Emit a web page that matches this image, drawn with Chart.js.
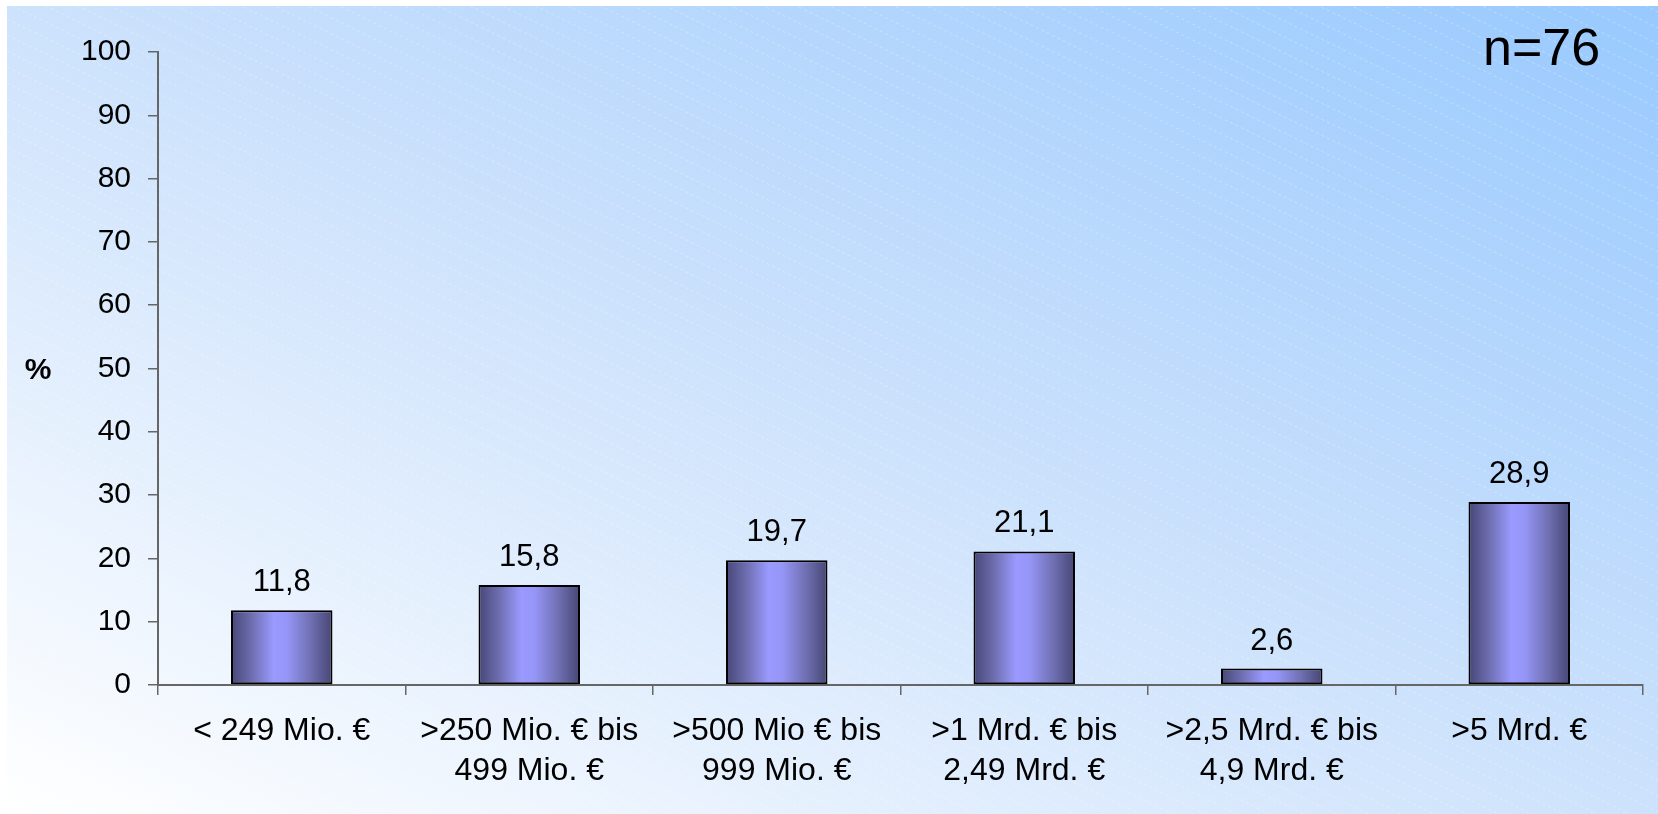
<!DOCTYPE html>
<html>
<head>
<meta charset="utf-8">
<style>
html,body{margin:0;padding:0;background:#fff;}
#wrap{width:1658px;height:814px;}
</style>
<script src="https://cdn.jsdelivr.net/npm/chart.js@4/dist/chart.umd.min.js"></script>
</head>
<body>
<div id="wrap"><canvas id="c" width="1658" height="814"></canvas></div>
<script>
const categories = [
  ['< 249 Mio. €'],
  ['>250 Mio. € bis', '499 Mio. €'],
  ['>500 Mio € bis', '999 Mio. €'],
  ['>1 Mrd. € bis', '2,49 Mrd. €'],
  ['>2,5 Mrd. € bis', '4,9 Mrd. €'],
  ['>5 Mrd. €']
];
const values = [11.8, 15.8, 19.7, 21.1, 2.6, 28.9];
const yTicks = [0, 10, 20, 30, 40, 50, 60, 70, 80, 90, 100];
const sampleNote = 'n=76';
const unitLabel = '%';

const FONT = "'Liberation Sans', Arial, sans-serif";
Chart.defaults.font.family = FONT;
Chart.defaults.color = '#000';

function barGradient(ctx) {
  const chart = ctx.chart;
  const area = chart.chartArea;
  if (!area || ctx.dataIndex === undefined) return '#9999ff';
  const xs = chart.scales.x;
  const cx = xs.getPixelForValue(ctx.dataIndex);
  const w = (xs.width / categories.length) * 0.404;
  const g = chart.ctx.createLinearGradient(cx - w / 2, 0, cx + w / 2, 0);
  g.addColorStop(0, '#48487a');
  g.addColorStop(0.18, '#6a6aaa');
  g.addColorStop(0.42, '#9a9aff');
  g.addColorStop(0.55, '#9696f8');
  g.addColorStop(0.8, '#6e6eb0');
  g.addColorStop(1, '#474776');
  return g;
}

const bgPlugin = {
  id: 'bg',
  beforeDraw(chart) {
    const c = chart.ctx;
    const W = chart.width, H = chart.height;
    c.save();
    c.fillStyle = '#ffffff';
    c.fillRect(0, 0, W, H);
    const x0 = 7, y0 = 6;
    const rw = W - x0, rh = H - y0;
    const cx = x0 + rw / 2, cy = y0 + rh / 2;
    // gradient perpendicular to the top-left/bottom-right diagonal
    const len = Math.hypot(rw, rh);
    const ux = rh / len, uy = -rw / len;
    const half = Math.abs((-rw / 2) * ux + (rh / 2) * uy);
    const g = c.createLinearGradient(cx - ux * half, cy - uy * half, cx + ux * half, cy + uy * half);
    g.addColorStop(0, '#ffffff');
    g.addColorStop(0.5, '#cde2fc');
    g.addColorStop(1, '#98c9fe');
    c.fillStyle = g;
    c.fillRect(x0, y0, rw, rh);
    c.beginPath();
    c.rect(x0, y0, rw, rh);
    c.clip();
    c.strokeStyle = 'rgba(255,255,255,0.3)';
    c.lineWidth = 1;
    c.setLineDash([3, 3]);
    const slope = 0.49;
    for (let b = -slope * W - 20; b < H + 20; b += 16) {
      c.beginPath();
      c.moveTo(x0, b + slope * x0);
      c.lineTo(W, b + slope * W);
      c.stroke();
    }
    c.restore();
  }
};

const labelPlugin = {
  id: 'labels',
  afterDatasetsDraw(chart) {
    const c = chart.ctx;
    const meta = chart.getDatasetMeta(0);
    c.save();
    c.font = '31px ' + FONT;
    c.fillStyle = '#000';
    c.textAlign = 'center';
    c.textBaseline = 'alphabetic';
    meta.data.forEach((el, i) => {
      const txt = values[i].toFixed(1).replace('.', ',');
      c.fillText(txt, el.x, el.y - 19);
    });
    c.font = '52px ' + FONT;
    c.textAlign = 'left';
    c.fillText(sampleNote, 1483, 65);
    c.font = 'bold 30px ' + FONT;
    c.textAlign = 'center';
    c.fillText(unitLabel, 38, 379);
    c.restore();
  }
};

new Chart(document.getElementById('c'), {
  type: 'bar',
  data: {
    labels: categories,
    datasets: [{
      data: values,
      backgroundColor: barGradient,
      borderColor: '#000',
      borderWidth: 2,
      borderSkipped: false,
      categoryPercentage: 1,
      barPercentage: 0.41
    }]
  },
  options: {
    responsive: false,
    devicePixelRatio: 1,
    animation: false,
    layout: { padding: { left: 0, top: 52, right: 15, bottom: 0 } },
    plugins: { legend: { display: false }, tooltip: { enabled: false } },
    scales: {
      x: {
        grid: { display: true, drawOnChartArea: false, drawTicks: true, tickLength: 10, color: '#666', lineWidth: 1.5, offset: true },
        border: { color: '#666', width: 2 },
        ticks: { font: { size: 32, lineHeight: 1.25 }, color: '#000', padding: 16, maxRotation: 0, autoSkip: false },
        afterFit(s) { s.height = 129; }
      },
      y: {
        min: 0, max: 100,
        afterBuildTicks(s) { s.ticks = yTicks.map(v => ({ value: v })); },
        grid: { display: true, drawOnChartArea: false, drawTicks: true, tickLength: 10, color: '#666', lineWidth: 1.5 },
        border: { color: '#666', width: 2 },
        ticks: { font: { size: 30 }, color: '#000', padding: 17 },
        afterFit(s) { s.width = 158; }
      }
    }
  },
  plugins: [bgPlugin, labelPlugin]
});
</script>
</body>
</html>
